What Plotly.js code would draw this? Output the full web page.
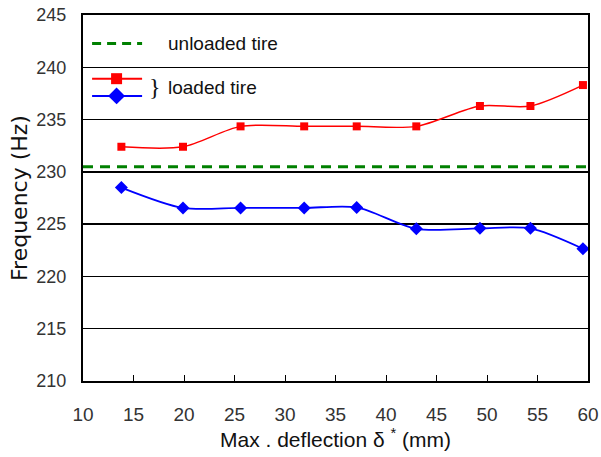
<!DOCTYPE html>
<html><head><meta charset="utf-8">
<script src="https://cdn.plot.ly/plotly-3.0.1.min.js"></script>
<style>html,body{margin:0;padding:0;background:#fff}#c{width:601px;height:457px}</style>
</head><body><div id="c"></div>
<script>
const deflection = [13.8, 19.9, 25.6, 31.9, 37.1, 43.0, 49.3, 54.3, 59.5];
const loadedUpper = [232.4, 232.4, 234.35, 234.35, 234.35, 234.35, 236.3, 236.3, 238.3];
const loadedLower = [228.5, 226.55, 226.55, 226.55, 226.6, 224.55, 224.6, 224.6, 222.65];
const unloadedX = [10, 60];
const unloadedY = [230.5, 230.5];
const xTicks = [10, 15, 20, 25, 30, 35, 40, 45, 50, 55, 60];
const yTicks = [210, 215, 220, 225, 230, 235, 240, 245];
// legend sample positions (paper-space helper axis)
const legendSampleX = [0.018, 0.117];

const fontFam = 'Liberation Sans, Arial, sans-serif';
const traces = [
  {x: unloadedX, y: unloadedY, mode: 'lines', line: {color: '#008000', width: 3, dash: '10px,7px'}, hoverinfo: 'skip'},
  {x: deflection, y: loadedUpper, mode: 'lines+markers', line: {color: '#ff0000', width: 1.5, shape: 'spline', smoothing: 0.8},
   marker: {symbol: 'square', size: 8, color: '#ff0000'}},
  {x: deflection, y: loadedLower, mode: 'lines+markers', line: {color: '#0000ff', width: 1.8, shape: 'spline', smoothing: 0.8},
   marker: {symbol: 'diamond', size: 10, color: '#0000ff'}},
  // legend samples
  {x: legendSampleX, y: [0.922, 0.922], xaxis: 'x2', yaxis: 'y2', mode: 'lines', line: {color: '#008000', width: 3, dash: '9px,6px'}},
  {x: legendSampleX, y: [0.826, 0.826], xaxis: 'x2', yaxis: 'y2', mode: 'lines', line: {color: '#ff0000', width: 2}},
  {x: [0.0665], y: [0.826], xaxis: 'x2', yaxis: 'y2', mode: 'markers', marker: {symbol: 'square', size: 11, color: '#ff0000'}},
  {x: legendSampleX, y: [0.779, 0.779], xaxis: 'x2', yaxis: 'y2', mode: 'lines', line: {color: '#0000ff', width: 2}},
  {x: [0.0665], y: [0.779], xaxis: 'x2', yaxis: 'y2', mode: 'markers', marker: {symbol: 'diamond', size: 13, color: '#0000ff'}}
];

const layout = {
  width: 601, height: 457,
  margin: {l: 83, r: 13, t: 15, b: 76},
  showlegend: false,
  paper_bgcolor: '#fff', plot_bgcolor: '#fff',
  font: {family: fontFam, color: '#222'},
  xaxis: {
    range: [10, 60], tickvals: xTicks, ticktext: xTicks.map(String),
    showgrid: false, zeroline: false, showline: true, linecolor: '#000', linewidth: 2, mirror: true,
    ticks: 'inside', ticklen: 6, tickcolor: '#000', tickwidth: 1, ticklabelstandoff: 15,
    tickfont: {size: 19, family: fontFam, color: '#333'},
    title: {text: 'Max . deflection δ <sup>*</sup> (mm)', font: {size: 21, family: fontFam, color: '#111'}, standoff: 4}
  },
  yaxis: {
    range: [210, 245], tickvals: yTicks, ticktext: yTicks.map(String),
    showgrid: true, gridcolor: '#000', gridwidth: 1.5, zeroline: false,
    showline: true, linecolor: '#000', linewidth: 2, mirror: true,
    ticks: '', ticklabelstandoff: 11,
    tickfont: {size: 18, family: fontFam, color: '#333'},
    title: {text: 'Frequency (Hz)', font: {size: 22, family: 'DejaVu Sans, sans-serif', color: '#111'}, standoff: 3}
  },
  xaxis2: {overlaying: 'x', range: [0, 1], visible: false, fixedrange: true},
  yaxis2: {overlaying: 'y', range: [0, 1], visible: false, fixedrange: true},
  annotations: [
    {xref: 'paper', yref: 'paper', x: 0.165, y: 0.922, xanchor: 'left', yanchor: 'middle', showarrow: false,
     text: 'unloaded tire', font: {size: 19, family: fontFam, color: '#111'}},
    {xref: 'paper', yref: 'paper', x: 0.165, y: 0.803, xanchor: 'left', yanchor: 'middle', showarrow: false,
     text: 'loaded tire', font: {size: 19, family: fontFam, color: '#111'}},
    {xref: 'paper', yref: 'paper', x: 0.126, y: 0.803, xanchor: 'left', yanchor: 'middle', showarrow: false,
     text: '}', font: {size: 24, family: 'Liberation Serif, serif', color: '#111'}}
  ]
};
Plotly.newPlot('c', traces, layout, {staticPlot: true, displayModeBar: false});
</script></body></html>
